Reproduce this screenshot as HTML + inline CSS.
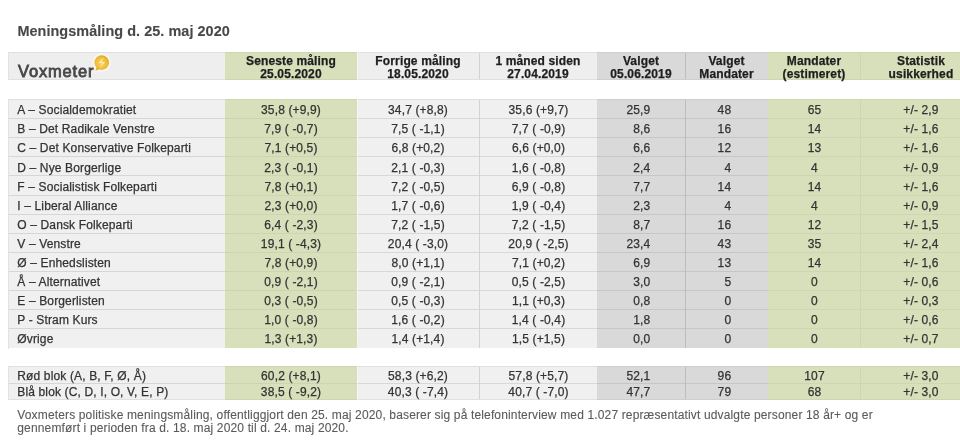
<!DOCTYPE html><html><head><meta charset="utf-8"><style>
html,body{margin:0;padding:0;background:#fff;width:960px;height:440px;overflow:hidden;position:relative}
body{font-family:"Liberation Sans",sans-serif;filter:blur(0.35px)}
.b{position:absolute}
.t{position:absolute;z-index:2;white-space:nowrap;font-size:12px;line-height:1;color:#333;letter-spacing:0.14px;-webkit-text-stroke:0.25px currentColor}
.c{text-align:center}
.h{font-weight:bold;color:#1e1e1e}
</style></head><body>

<div class="t" style="left:17.4px;top:24px;font-size:14.45px;font-weight:bold;color:#484848;letter-spacing:0.05px;-webkit-text-stroke:0.1px #484848">Meningsmåling d. 25. maj 2020</div>
<div class="b" style="left:8px;top:52px;width:217px;height:28.200000000000003px;background:#eeeeee"></div>
<div class="b" style="left:225px;top:52px;width:132px;height:28.200000000000003px;background:#d7dfbb"></div>
<div class="b" style="left:357px;top:52px;width:122px;height:28.200000000000003px;background:#eeeeee"></div>
<div class="b" style="left:479px;top:52px;width:118px;height:28.200000000000003px;background:#eeeeee"></div>
<div class="b" style="left:597px;top:52px;width:88px;height:28.200000000000003px;background:#d9d9d9"></div>
<div class="b" style="left:685px;top:52px;width:83px;height:28.200000000000003px;background:#d9d9d9"></div>
<div class="b" style="left:768px;top:52px;width:92px;height:28.200000000000003px;background:#d7dfbb"></div>
<div class="b" style="left:860px;top:52px;width:100px;height:28.200000000000003px;background:#d7dfbb"></div>
<div class="t c h" style="left:231px;width:120px;top:55px">Seneste måling</div>
<div class="t c h" style="left:231px;width:120px;top:68.3px">25.05.2020</div>
<div class="t c h" style="left:358px;width:120px;top:55px">Forrige måling</div>
<div class="t c h" style="left:358px;width:120px;top:68.3px">18.05.2020</div>
<div class="t c h" style="left:478px;width:120px;top:55px">1 måned siden</div>
<div class="t c h" style="left:478px;width:120px;top:68.3px">27.04.2019</div>
<div class="t c h" style="left:581px;width:120px;top:55px">Valget</div>
<div class="t c h" style="left:581px;width:120px;top:68.3px">05.06.2019</div>
<div class="t c h" style="left:666.5px;width:120px;top:55px">Valget</div>
<div class="t c h" style="left:666.5px;width:120px;top:68.3px">Mandater</div>
<div class="t c h" style="left:754px;width:120px;top:55px">Mandater</div>
<div class="t c h" style="left:754px;width:120px;top:68.3px">(estimeret)</div>
<div class="t c h" style="left:861px;width:120px;top:55px">Statistik</div>
<div class="t c h" style="left:861px;width:120px;top:68.3px">usikkerhed</div>
<div class="b" style="left:8px;top:99.1px;width:217px;height:249.4px;background:#f0f0f0"></div>
<div class="b" style="left:225px;top:99.1px;width:132px;height:249.4px;background:#d7dfbb"></div>
<div class="b" style="left:357px;top:99.1px;width:122px;height:249.4px;background:#f0f0f0"></div>
<div class="b" style="left:479px;top:99.1px;width:118px;height:249.4px;background:#f0f0f0"></div>
<div class="b" style="left:597px;top:99.1px;width:88px;height:249.4px;background:#d9d9d9"></div>
<div class="b" style="left:685px;top:99.1px;width:83px;height:249.4px;background:#d9d9d9"></div>
<div class="b" style="left:768px;top:99.1px;width:92px;height:249.4px;background:#d7dfbb"></div>
<div class="b" style="left:860px;top:99.1px;width:100px;height:249.4px;background:#d7dfbb"></div>
<div class="b" style="left:8px;top:118.18px;width:217px;height:1px;background:#d6d6d6"></div>
<div class="b" style="left:225px;top:118.18px;width:132px;height:1px;background:#ccd4b1"></div>
<div class="b" style="left:357px;top:118.18px;width:122px;height:1px;background:#d8d8d8"></div>
<div class="b" style="left:479px;top:118.18px;width:118px;height:1px;background:#d8d8d8"></div>
<div class="b" style="left:597px;top:118.18px;width:88px;height:1px;background:#c6c6c6"></div>
<div class="b" style="left:685px;top:118.18px;width:83px;height:1px;background:#c6c6c6"></div>
<div class="b" style="left:768px;top:118.18px;width:92px;height:1px;background:#ced6b3"></div>
<div class="b" style="left:860px;top:118.18px;width:100px;height:1px;background:#ced6b3"></div>
<div class="b" style="left:8px;top:137.26px;width:217px;height:1px;background:#d6d6d6"></div>
<div class="b" style="left:225px;top:137.26px;width:132px;height:1px;background:#ccd4b1"></div>
<div class="b" style="left:357px;top:137.26px;width:122px;height:1px;background:#d8d8d8"></div>
<div class="b" style="left:479px;top:137.26px;width:118px;height:1px;background:#d8d8d8"></div>
<div class="b" style="left:597px;top:137.26px;width:88px;height:1px;background:#c6c6c6"></div>
<div class="b" style="left:685px;top:137.26px;width:83px;height:1px;background:#c6c6c6"></div>
<div class="b" style="left:768px;top:137.26px;width:92px;height:1px;background:#ced6b3"></div>
<div class="b" style="left:860px;top:137.26px;width:100px;height:1px;background:#ced6b3"></div>
<div class="b" style="left:8px;top:156.34px;width:217px;height:1px;background:#d6d6d6"></div>
<div class="b" style="left:225px;top:156.34px;width:132px;height:1px;background:#ccd4b1"></div>
<div class="b" style="left:357px;top:156.34px;width:122px;height:1px;background:#d8d8d8"></div>
<div class="b" style="left:479px;top:156.34px;width:118px;height:1px;background:#d8d8d8"></div>
<div class="b" style="left:597px;top:156.34px;width:88px;height:1px;background:#c6c6c6"></div>
<div class="b" style="left:685px;top:156.34px;width:83px;height:1px;background:#c6c6c6"></div>
<div class="b" style="left:768px;top:156.34px;width:92px;height:1px;background:#ced6b3"></div>
<div class="b" style="left:860px;top:156.34px;width:100px;height:1px;background:#ced6b3"></div>
<div class="b" style="left:8px;top:175.42px;width:217px;height:1px;background:#d6d6d6"></div>
<div class="b" style="left:225px;top:175.42px;width:132px;height:1px;background:#ccd4b1"></div>
<div class="b" style="left:357px;top:175.42px;width:122px;height:1px;background:#d8d8d8"></div>
<div class="b" style="left:479px;top:175.42px;width:118px;height:1px;background:#d8d8d8"></div>
<div class="b" style="left:597px;top:175.42px;width:88px;height:1px;background:#c6c6c6"></div>
<div class="b" style="left:685px;top:175.42px;width:83px;height:1px;background:#c6c6c6"></div>
<div class="b" style="left:768px;top:175.42px;width:92px;height:1px;background:#ced6b3"></div>
<div class="b" style="left:860px;top:175.42px;width:100px;height:1px;background:#ced6b3"></div>
<div class="b" style="left:8px;top:194.50px;width:217px;height:1px;background:#d6d6d6"></div>
<div class="b" style="left:225px;top:194.50px;width:132px;height:1px;background:#ccd4b1"></div>
<div class="b" style="left:357px;top:194.50px;width:122px;height:1px;background:#d8d8d8"></div>
<div class="b" style="left:479px;top:194.50px;width:118px;height:1px;background:#d8d8d8"></div>
<div class="b" style="left:597px;top:194.50px;width:88px;height:1px;background:#c6c6c6"></div>
<div class="b" style="left:685px;top:194.50px;width:83px;height:1px;background:#c6c6c6"></div>
<div class="b" style="left:768px;top:194.50px;width:92px;height:1px;background:#ced6b3"></div>
<div class="b" style="left:860px;top:194.50px;width:100px;height:1px;background:#ced6b3"></div>
<div class="b" style="left:8px;top:213.58px;width:217px;height:1px;background:#d6d6d6"></div>
<div class="b" style="left:225px;top:213.58px;width:132px;height:1px;background:#ccd4b1"></div>
<div class="b" style="left:357px;top:213.58px;width:122px;height:1px;background:#d8d8d8"></div>
<div class="b" style="left:479px;top:213.58px;width:118px;height:1px;background:#d8d8d8"></div>
<div class="b" style="left:597px;top:213.58px;width:88px;height:1px;background:#c6c6c6"></div>
<div class="b" style="left:685px;top:213.58px;width:83px;height:1px;background:#c6c6c6"></div>
<div class="b" style="left:768px;top:213.58px;width:92px;height:1px;background:#ced6b3"></div>
<div class="b" style="left:860px;top:213.58px;width:100px;height:1px;background:#ced6b3"></div>
<div class="b" style="left:8px;top:232.66px;width:217px;height:1px;background:#d6d6d6"></div>
<div class="b" style="left:225px;top:232.66px;width:132px;height:1px;background:#ccd4b1"></div>
<div class="b" style="left:357px;top:232.66px;width:122px;height:1px;background:#d8d8d8"></div>
<div class="b" style="left:479px;top:232.66px;width:118px;height:1px;background:#d8d8d8"></div>
<div class="b" style="left:597px;top:232.66px;width:88px;height:1px;background:#c6c6c6"></div>
<div class="b" style="left:685px;top:232.66px;width:83px;height:1px;background:#c6c6c6"></div>
<div class="b" style="left:768px;top:232.66px;width:92px;height:1px;background:#ced6b3"></div>
<div class="b" style="left:860px;top:232.66px;width:100px;height:1px;background:#ced6b3"></div>
<div class="b" style="left:8px;top:251.74px;width:217px;height:1px;background:#d6d6d6"></div>
<div class="b" style="left:225px;top:251.74px;width:132px;height:1px;background:#ccd4b1"></div>
<div class="b" style="left:357px;top:251.74px;width:122px;height:1px;background:#d8d8d8"></div>
<div class="b" style="left:479px;top:251.74px;width:118px;height:1px;background:#d8d8d8"></div>
<div class="b" style="left:597px;top:251.74px;width:88px;height:1px;background:#c6c6c6"></div>
<div class="b" style="left:685px;top:251.74px;width:83px;height:1px;background:#c6c6c6"></div>
<div class="b" style="left:768px;top:251.74px;width:92px;height:1px;background:#ced6b3"></div>
<div class="b" style="left:860px;top:251.74px;width:100px;height:1px;background:#ced6b3"></div>
<div class="b" style="left:8px;top:270.82px;width:217px;height:1px;background:#d6d6d6"></div>
<div class="b" style="left:225px;top:270.82px;width:132px;height:1px;background:#ccd4b1"></div>
<div class="b" style="left:357px;top:270.82px;width:122px;height:1px;background:#d8d8d8"></div>
<div class="b" style="left:479px;top:270.82px;width:118px;height:1px;background:#d8d8d8"></div>
<div class="b" style="left:597px;top:270.82px;width:88px;height:1px;background:#c6c6c6"></div>
<div class="b" style="left:685px;top:270.82px;width:83px;height:1px;background:#c6c6c6"></div>
<div class="b" style="left:768px;top:270.82px;width:92px;height:1px;background:#ced6b3"></div>
<div class="b" style="left:860px;top:270.82px;width:100px;height:1px;background:#ced6b3"></div>
<div class="b" style="left:8px;top:289.90px;width:217px;height:1px;background:#d6d6d6"></div>
<div class="b" style="left:225px;top:289.90px;width:132px;height:1px;background:#ccd4b1"></div>
<div class="b" style="left:357px;top:289.90px;width:122px;height:1px;background:#d8d8d8"></div>
<div class="b" style="left:479px;top:289.90px;width:118px;height:1px;background:#d8d8d8"></div>
<div class="b" style="left:597px;top:289.90px;width:88px;height:1px;background:#c6c6c6"></div>
<div class="b" style="left:685px;top:289.90px;width:83px;height:1px;background:#c6c6c6"></div>
<div class="b" style="left:768px;top:289.90px;width:92px;height:1px;background:#ced6b3"></div>
<div class="b" style="left:860px;top:289.90px;width:100px;height:1px;background:#ced6b3"></div>
<div class="b" style="left:8px;top:308.98px;width:217px;height:1px;background:#d6d6d6"></div>
<div class="b" style="left:225px;top:308.98px;width:132px;height:1px;background:#ccd4b1"></div>
<div class="b" style="left:357px;top:308.98px;width:122px;height:1px;background:#d8d8d8"></div>
<div class="b" style="left:479px;top:308.98px;width:118px;height:1px;background:#d8d8d8"></div>
<div class="b" style="left:597px;top:308.98px;width:88px;height:1px;background:#c6c6c6"></div>
<div class="b" style="left:685px;top:308.98px;width:83px;height:1px;background:#c6c6c6"></div>
<div class="b" style="left:768px;top:308.98px;width:92px;height:1px;background:#ced6b3"></div>
<div class="b" style="left:860px;top:308.98px;width:100px;height:1px;background:#ced6b3"></div>
<div class="b" style="left:8px;top:328.06px;width:217px;height:1px;background:#d6d6d6"></div>
<div class="b" style="left:225px;top:328.06px;width:132px;height:1px;background:#ccd4b1"></div>
<div class="b" style="left:357px;top:328.06px;width:122px;height:1px;background:#d8d8d8"></div>
<div class="b" style="left:479px;top:328.06px;width:118px;height:1px;background:#d8d8d8"></div>
<div class="b" style="left:597px;top:328.06px;width:88px;height:1px;background:#c6c6c6"></div>
<div class="b" style="left:685px;top:328.06px;width:83px;height:1px;background:#c6c6c6"></div>
<div class="b" style="left:768px;top:328.06px;width:92px;height:1px;background:#ced6b3"></div>
<div class="b" style="left:860px;top:328.06px;width:100px;height:1px;background:#ced6b3"></div>
<div class="t" style="left:17.3px;top:104.30px">A – Socialdemokratiet</div>
<div class="t c" style="left:231px;width:120px;top:104.30px">35,8 (+9,9)</div>
<div class="t c" style="left:358px;width:120px;top:104.30px">34,7 (+8,8)</div>
<div class="t c" style="left:478.5px;width:120px;top:104.30px">35,6 (+9,7)</div>
<div class="t" style="right:309.70000000000005px;top:104.30px;text-align:right">25,9</div>
<div class="t" style="right:228.79999999999995px;top:104.30px;text-align:right">48</div>
<div class="t c" style="left:754.5px;width:120px;top:104.30px">65</div>
<div class="t c" style="left:861px;width:120px;top:104.30px">+/- 2,9</div>
<div class="t" style="left:17.3px;top:123.38px">B – Det Radikale Venstre</div>
<div class="t c" style="left:231px;width:120px;top:123.38px">7,9 ( -0,7)</div>
<div class="t c" style="left:358px;width:120px;top:123.38px">7,5 ( -1,1)</div>
<div class="t c" style="left:478.5px;width:120px;top:123.38px">7,7 ( -0,9)</div>
<div class="t" style="right:309.70000000000005px;top:123.38px;text-align:right">8,6</div>
<div class="t" style="right:228.79999999999995px;top:123.38px;text-align:right">16</div>
<div class="t c" style="left:754.5px;width:120px;top:123.38px">14</div>
<div class="t c" style="left:861px;width:120px;top:123.38px">+/- 1,6</div>
<div class="t" style="left:17.3px;top:142.46px">C – Det Konservative Folkeparti</div>
<div class="t c" style="left:231px;width:120px;top:142.46px">7,1 (+0,5)</div>
<div class="t c" style="left:358px;width:120px;top:142.46px">6,8 (+0,2)</div>
<div class="t c" style="left:478.5px;width:120px;top:142.46px">6,6 (+0,0)</div>
<div class="t" style="right:309.70000000000005px;top:142.46px;text-align:right">6,6</div>
<div class="t" style="right:228.79999999999995px;top:142.46px;text-align:right">12</div>
<div class="t c" style="left:754.5px;width:120px;top:142.46px">13</div>
<div class="t c" style="left:861px;width:120px;top:142.46px">+/- 1,6</div>
<div class="t" style="left:17.3px;top:161.54px">D – Nye Borgerlige</div>
<div class="t c" style="left:231px;width:120px;top:161.54px">2,3 ( -0,1)</div>
<div class="t c" style="left:358px;width:120px;top:161.54px">2,1 ( -0,3)</div>
<div class="t c" style="left:478.5px;width:120px;top:161.54px">1,6 ( -0,8)</div>
<div class="t" style="right:309.70000000000005px;top:161.54px;text-align:right">2,4</div>
<div class="t" style="right:228.79999999999995px;top:161.54px;text-align:right">4</div>
<div class="t c" style="left:754.5px;width:120px;top:161.54px">4</div>
<div class="t c" style="left:861px;width:120px;top:161.54px">+/- 0,9</div>
<div class="t" style="left:17.3px;top:180.62px">F – Socialistisk Folkeparti</div>
<div class="t c" style="left:231px;width:120px;top:180.62px">7,8 (+0,1)</div>
<div class="t c" style="left:358px;width:120px;top:180.62px">7,2 ( -0,5)</div>
<div class="t c" style="left:478.5px;width:120px;top:180.62px">6,9 ( -0,8)</div>
<div class="t" style="right:309.70000000000005px;top:180.62px;text-align:right">7,7</div>
<div class="t" style="right:228.79999999999995px;top:180.62px;text-align:right">14</div>
<div class="t c" style="left:754.5px;width:120px;top:180.62px">14</div>
<div class="t c" style="left:861px;width:120px;top:180.62px">+/- 1,6</div>
<div class="t" style="left:17.3px;top:199.70px">I – Liberal Alliance</div>
<div class="t c" style="left:231px;width:120px;top:199.70px">2,3 (+0,0)</div>
<div class="t c" style="left:358px;width:120px;top:199.70px">1,7 ( -0,6)</div>
<div class="t c" style="left:478.5px;width:120px;top:199.70px">1,9 ( -0,4)</div>
<div class="t" style="right:309.70000000000005px;top:199.70px;text-align:right">2,3</div>
<div class="t" style="right:228.79999999999995px;top:199.70px;text-align:right">4</div>
<div class="t c" style="left:754.5px;width:120px;top:199.70px">4</div>
<div class="t c" style="left:861px;width:120px;top:199.70px">+/- 0,9</div>
<div class="t" style="left:17.3px;top:218.78px">O – Dansk Folkeparti</div>
<div class="t c" style="left:231px;width:120px;top:218.78px">6,4 ( -2,3)</div>
<div class="t c" style="left:358px;width:120px;top:218.78px">7,2 ( -1,5)</div>
<div class="t c" style="left:478.5px;width:120px;top:218.78px">7,2 ( -1,5)</div>
<div class="t" style="right:309.70000000000005px;top:218.78px;text-align:right">8,7</div>
<div class="t" style="right:228.79999999999995px;top:218.78px;text-align:right">16</div>
<div class="t c" style="left:754.5px;width:120px;top:218.78px">12</div>
<div class="t c" style="left:861px;width:120px;top:218.78px">+/- 1,5</div>
<div class="t" style="left:17.3px;top:237.86px">V – Venstre</div>
<div class="t c" style="left:231px;width:120px;top:237.86px">19,1 ( -4,3)</div>
<div class="t c" style="left:358px;width:120px;top:237.86px">20,4 ( -3,0)</div>
<div class="t c" style="left:478.5px;width:120px;top:237.86px">20,9 ( -2,5)</div>
<div class="t" style="right:309.70000000000005px;top:237.86px;text-align:right">23,4</div>
<div class="t" style="right:228.79999999999995px;top:237.86px;text-align:right">43</div>
<div class="t c" style="left:754.5px;width:120px;top:237.86px">35</div>
<div class="t c" style="left:861px;width:120px;top:237.86px">+/- 2,4</div>
<div class="t" style="left:17.3px;top:256.94px">Ø – Enhedslisten</div>
<div class="t c" style="left:231px;width:120px;top:256.94px">7,8 (+0,9)</div>
<div class="t c" style="left:358px;width:120px;top:256.94px">8,0 (+1,1)</div>
<div class="t c" style="left:478.5px;width:120px;top:256.94px">7,1 (+0,2)</div>
<div class="t" style="right:309.70000000000005px;top:256.94px;text-align:right">6,9</div>
<div class="t" style="right:228.79999999999995px;top:256.94px;text-align:right">13</div>
<div class="t c" style="left:754.5px;width:120px;top:256.94px">14</div>
<div class="t c" style="left:861px;width:120px;top:256.94px">+/- 1,6</div>
<div class="t" style="left:17.3px;top:276.02px">Å – Alternativet</div>
<div class="t c" style="left:231px;width:120px;top:276.02px">0,9 ( -2,1)</div>
<div class="t c" style="left:358px;width:120px;top:276.02px">0,9 ( -2,1)</div>
<div class="t c" style="left:478.5px;width:120px;top:276.02px">0,5 ( -2,5)</div>
<div class="t" style="right:309.70000000000005px;top:276.02px;text-align:right">3,0</div>
<div class="t" style="right:228.79999999999995px;top:276.02px;text-align:right">5</div>
<div class="t c" style="left:754.5px;width:120px;top:276.02px">0</div>
<div class="t c" style="left:861px;width:120px;top:276.02px">+/- 0,6</div>
<div class="t" style="left:17.3px;top:295.10px">E – Borgerlisten</div>
<div class="t c" style="left:231px;width:120px;top:295.10px">0,3 ( -0,5)</div>
<div class="t c" style="left:358px;width:120px;top:295.10px">0,5 ( -0,3)</div>
<div class="t c" style="left:478.5px;width:120px;top:295.10px">1,1 (+0,3)</div>
<div class="t" style="right:309.70000000000005px;top:295.10px;text-align:right">0,8</div>
<div class="t" style="right:228.79999999999995px;top:295.10px;text-align:right">0</div>
<div class="t c" style="left:754.5px;width:120px;top:295.10px">0</div>
<div class="t c" style="left:861px;width:120px;top:295.10px">+/- 0,3</div>
<div class="t" style="left:17.3px;top:314.18px">P - Stram Kurs</div>
<div class="t c" style="left:231px;width:120px;top:314.18px">1,0 ( -0,8)</div>
<div class="t c" style="left:358px;width:120px;top:314.18px">1,6 ( -0,2)</div>
<div class="t c" style="left:478.5px;width:120px;top:314.18px">1,4 ( -0,4)</div>
<div class="t" style="right:309.70000000000005px;top:314.18px;text-align:right">1,8</div>
<div class="t" style="right:228.79999999999995px;top:314.18px;text-align:right">0</div>
<div class="t c" style="left:754.5px;width:120px;top:314.18px">0</div>
<div class="t c" style="left:861px;width:120px;top:314.18px">+/- 0,6</div>
<div class="t" style="left:17.3px;top:333.26px">Øvrige</div>
<div class="t c" style="left:231px;width:120px;top:333.26px">1,3 (+1,3)</div>
<div class="t c" style="left:358px;width:120px;top:333.26px">1,4 (+1,4)</div>
<div class="t c" style="left:478.5px;width:120px;top:333.26px">1,5 (+1,5)</div>
<div class="t" style="right:309.70000000000005px;top:333.26px;text-align:right">0,0</div>
<div class="t" style="right:228.79999999999995px;top:333.26px;text-align:right">0</div>
<div class="t c" style="left:754.5px;width:120px;top:333.26px">0</div>
<div class="t c" style="left:861px;width:120px;top:333.26px">+/- 0,7</div>
<div class="b" style="left:8px;top:366.2px;width:217px;height:34.2px;background:#f0f0f0"></div>
<div class="b" style="left:225px;top:366.2px;width:132px;height:34.2px;background:#d7dfbb"></div>
<div class="b" style="left:357px;top:366.2px;width:122px;height:34.2px;background:#f0f0f0"></div>
<div class="b" style="left:479px;top:366.2px;width:118px;height:34.2px;background:#f0f0f0"></div>
<div class="b" style="left:597px;top:366.2px;width:88px;height:34.2px;background:#d9d9d9"></div>
<div class="b" style="left:685px;top:366.2px;width:83px;height:34.2px;background:#d9d9d9"></div>
<div class="b" style="left:768px;top:366.2px;width:92px;height:34.2px;background:#d7dfbb"></div>
<div class="b" style="left:860px;top:366.2px;width:100px;height:34.2px;background:#d7dfbb"></div>
<div class="b" style="left:8px;top:383px;width:217px;height:1px;background:#d6d6d6"></div>
<div class="b" style="left:225px;top:383px;width:132px;height:1px;background:#ccd4b1"></div>
<div class="b" style="left:357px;top:383px;width:122px;height:1px;background:#d8d8d8"></div>
<div class="b" style="left:479px;top:383px;width:118px;height:1px;background:#d8d8d8"></div>
<div class="b" style="left:597px;top:383px;width:88px;height:1px;background:#c6c6c6"></div>
<div class="b" style="left:685px;top:383px;width:83px;height:1px;background:#c6c6c6"></div>
<div class="b" style="left:768px;top:383px;width:92px;height:1px;background:#ced6b3"></div>
<div class="b" style="left:860px;top:383px;width:100px;height:1px;background:#ced6b3"></div>
<div class="t" style="left:17.3px;top:370.00px">Rød blok (A, B, F, Ø, Å)</div>
<div class="t c" style="left:231px;width:120px;top:370.00px">60,2 (+8,1)</div>
<div class="t c" style="left:358px;width:120px;top:370.00px">58,3 (+6,2)</div>
<div class="t c" style="left:478.5px;width:120px;top:370.00px">57,8 (+5,7)</div>
<div class="t" style="right:309.70000000000005px;top:370.00px;text-align:right">52,1</div>
<div class="t" style="right:228.79999999999995px;top:370.00px;text-align:right">96</div>
<div class="t c" style="left:754.5px;width:120px;top:370.00px">107</div>
<div class="t c" style="left:861px;width:120px;top:370.00px">+/- 3,0</div>
<div class="t" style="left:17.3px;top:386.40px">Blå blok (C, D, I, O, V, E, P)</div>
<div class="t c" style="left:231px;width:120px;top:386.40px">38,5 ( -9,2)</div>
<div class="t c" style="left:358px;width:120px;top:386.40px">40,3 ( -7,4)</div>
<div class="t c" style="left:478.5px;width:120px;top:386.40px">40,7 ( -7,0)</div>
<div class="t" style="right:309.70000000000005px;top:386.40px;text-align:right">47,7</div>
<div class="t" style="right:228.79999999999995px;top:386.40px;text-align:right">79</div>
<div class="t c" style="left:754.5px;width:120px;top:386.40px">68</div>
<div class="t c" style="left:861px;width:120px;top:386.40px">+/- 3,0</div>
<div class="b" style="left:479px;top:52px;width:1px;height:28.200000000000003px;background:#d2d2d2"></div>
<div class="b" style="left:479px;top:99.1px;width:1px;height:249.4px;background:#d2d2d2"></div>
<div class="b" style="left:479px;top:366.2px;width:1px;height:34.2px;background:#d2d2d2"></div>
<div class="b" style="left:685px;top:52px;width:1px;height:28.200000000000003px;background:#bdbdbd"></div>
<div class="b" style="left:685px;top:99.1px;width:1px;height:249.4px;background:#bdbdbd"></div>
<div class="b" style="left:685px;top:366.2px;width:1px;height:34.2px;background:#bdbdbd"></div>
<div class="b" style="left:860px;top:52px;width:1px;height:28.200000000000003px;background:#cdd5b1"></div>
<div class="b" style="left:860px;top:99.1px;width:1px;height:249.4px;background:#cdd5b1"></div>
<div class="b" style="left:860px;top:366.2px;width:1px;height:34.2px;background:#cdd5b1"></div>
<div class="b" style="left:8px;top:52px;width:217px;height:1px;background:#e0e0e0"></div>
<div class="b" style="left:8px;top:79px;width:217px;height:1px;background:#e0e0e0"></div>
<div class="b" style="left:225px;top:52px;width:132px;height:1px;background:#cdd5b1"></div>
<div class="b" style="left:225px;top:79px;width:132px;height:1px;background:#cdd5b1"></div>
<div class="b" style="left:357px;top:52px;width:122px;height:1px;background:#e0e0e0"></div>
<div class="b" style="left:357px;top:79px;width:122px;height:1px;background:#e0e0e0"></div>
<div class="b" style="left:479px;top:52px;width:118px;height:1px;background:#e0e0e0"></div>
<div class="b" style="left:479px;top:79px;width:118px;height:1px;background:#e0e0e0"></div>
<div class="b" style="left:597px;top:52px;width:88px;height:1px;background:#cecece"></div>
<div class="b" style="left:597px;top:79px;width:88px;height:1px;background:#cecece"></div>
<div class="b" style="left:685px;top:52px;width:83px;height:1px;background:#cecece"></div>
<div class="b" style="left:685px;top:79px;width:83px;height:1px;background:#cecece"></div>
<div class="b" style="left:768px;top:52px;width:92px;height:1px;background:#cdd5b1"></div>
<div class="b" style="left:768px;top:79px;width:92px;height:1px;background:#cdd5b1"></div>
<div class="b" style="left:860px;top:52px;width:100px;height:1px;background:#cdd5b1"></div>
<div class="b" style="left:860px;top:79px;width:100px;height:1px;background:#cdd5b1"></div>
<div class="b" style="left:8px;top:52px;width:1px;height:28px;background:#e2e2e2"></div>
<div class="b" style="left:357px;top:52px;width:1px;height:28px;background:#f6f6f6"></div>
<div class="b" style="left:8px;top:99px;width:217px;height:1px;background:#e0e0e0"></div>
<div class="b" style="left:225px;top:99px;width:132px;height:1px;background:#cdd5b1"></div>
<div class="b" style="left:357px;top:99px;width:122px;height:1px;background:#e0e0e0"></div>
<div class="b" style="left:479px;top:99px;width:118px;height:1px;background:#e0e0e0"></div>
<div class="b" style="left:597px;top:99px;width:88px;height:1px;background:#cecece"></div>
<div class="b" style="left:685px;top:99px;width:83px;height:1px;background:#cecece"></div>
<div class="b" style="left:768px;top:99px;width:92px;height:1px;background:#cdd5b1"></div>
<div class="b" style="left:860px;top:99px;width:100px;height:1px;background:#cdd5b1"></div>
<div class="b" style="left:8px;top:99px;width:1px;height:250px;background:#e2e2e2"></div>
<div class="b" style="left:357px;top:99px;width:1px;height:250px;background:#f6f6f6"></div>
<div class="b" style="left:8px;top:366px;width:217px;height:1px;background:#e0e0e0"></div>
<div class="b" style="left:8px;top:399px;width:217px;height:1px;background:#e0e0e0"></div>
<div class="b" style="left:225px;top:366px;width:132px;height:1px;background:#cdd5b1"></div>
<div class="b" style="left:225px;top:399px;width:132px;height:1px;background:#cdd5b1"></div>
<div class="b" style="left:357px;top:366px;width:122px;height:1px;background:#e0e0e0"></div>
<div class="b" style="left:357px;top:399px;width:122px;height:1px;background:#e0e0e0"></div>
<div class="b" style="left:479px;top:366px;width:118px;height:1px;background:#e0e0e0"></div>
<div class="b" style="left:479px;top:399px;width:118px;height:1px;background:#e0e0e0"></div>
<div class="b" style="left:597px;top:366px;width:88px;height:1px;background:#cecece"></div>
<div class="b" style="left:597px;top:399px;width:88px;height:1px;background:#cecece"></div>
<div class="b" style="left:685px;top:366px;width:83px;height:1px;background:#cecece"></div>
<div class="b" style="left:685px;top:399px;width:83px;height:1px;background:#cecece"></div>
<div class="b" style="left:768px;top:366px;width:92px;height:1px;background:#cdd5b1"></div>
<div class="b" style="left:768px;top:399px;width:92px;height:1px;background:#cdd5b1"></div>
<div class="b" style="left:860px;top:366px;width:100px;height:1px;background:#cdd5b1"></div>
<div class="b" style="left:860px;top:399px;width:100px;height:1px;background:#cdd5b1"></div>
<div class="b" style="left:8px;top:366px;width:1px;height:34px;background:#e2e2e2"></div>
<div class="b" style="left:357px;top:366px;width:1px;height:34px;background:#f6f6f6"></div>
<div class="t" style="left:18.1px;top:63.3px;font-size:16.5px;color:#474747;letter-spacing:0.8px;-webkit-text-stroke:0.8px #474747">Voxmeter</div>
<svg class="b" style="left:85px;top:50px" width="35" height="30" viewBox="85 50 35 30">
<defs><radialGradient id="g1" cx="0.45" cy="0.55" r="0.6"><stop offset="0" stop-color="#f8d458"/><stop offset="0.65" stop-color="#f0bd3c"/><stop offset="1" stop-color="#dc9f30"/></radialGradient></defs>
<circle cx="101.7" cy="62.6" r="9.3" fill="#fbf6ea"/>
<path d="M95.2 71.2 L97.5 66.5 L100 69 Z" fill="#fbf6ea" stroke="#fbf6ea" stroke-width="2"/>
<circle cx="101.7" cy="62.6" r="7.3" fill="url(#g1)"/>
<path d="M95.3 70.8 L97.2 66.8 L99.6 68.9 Z" fill="#e2a836"/>
<path d="M103.6 57.2 L98.4 62.9 L102.0 63.0 L99.9 68.0 L105.2 62.0 L101.7 61.9 Z" fill="#fff0b8" opacity="0.85"/>
</svg>
<div class="t" style="left:17.3px;top:408.6px;color:#5a5a5a;letter-spacing:0.148px;-webkit-text-stroke:0.1px currentColor">Voxmeters politiske meningsmåling, offentliggjort den 25. maj 2020, baserer sig på telefoninterview med 1.027 repræsentativt udvalgte personer 18 år+ og er</div>
<div class="t" style="left:17.3px;top:422.2px;color:#5a5a5a;letter-spacing:0.148px;-webkit-text-stroke:0.1px currentColor">gennemført i perioden fra d. 18. maj 2020 til d. 24. maj 2020.</div>
</body></html>
